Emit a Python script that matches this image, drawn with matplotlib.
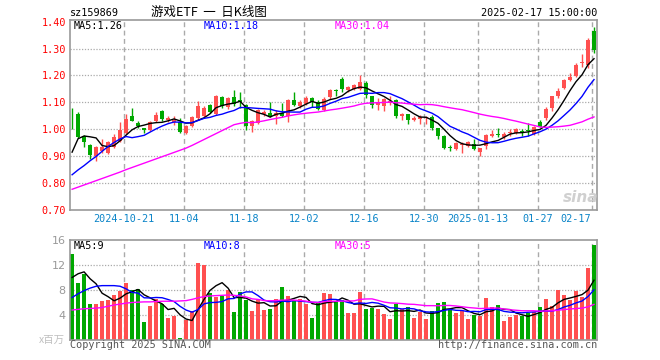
import numpy as np
import matplotlib
matplotlib.use("Agg")
import matplotlib.pyplot as plt

# daily candles, 2024-10-08 .. 2025-02-17 (88 trading days)
opens = [1.077, 1.058, 0.975, 0.942, 0.902, 0.918, 0.912, 0.933, 0.957, 0.987,
         1.048, 1.024, 1.003, 0.996, 1.030, 1.068, 1.035, 1.028, 1.026, 0.985,
         1.012, 1.040, 1.050, 1.090, 1.058, 1.120, 1.083, 1.120, 1.108, 1.092,
         1.011, 1.024, 1.057, 1.062, 1.050, 1.062, 1.048, 1.110, 1.086, 1.095,
         1.117, 1.101, 1.071, 1.119, 1.147, 1.188, 1.145, 1.150, 1.150, 1.172,
         1.123, 1.090, 1.088, 1.099, 1.110, 1.048, 1.056, 1.036, 1.038, 1.040,
         1.047, 1.004, 0.975, 0.933, 0.925, 0.940, 0.937, 0.946, 0.915, 0.937,
         0.975, 0.983, 0.972, 0.985, 0.987, 0.994, 0.996, 0.981, 1.027, 1.042,
         1.079, 1.122, 1.153, 1.184, 1.199, 1.246, 1.240, 1.365]
highs = [1.078, 1.066, 0.979, 0.945, 0.938, 0.962, 0.957, 0.984, 1.026, 1.056,
         1.080, 1.030, 1.004, 1.032, 1.066, 1.072, 1.048, 1.048, 1.040, 1.015,
         1.050, 1.105, 1.085, 1.093, 1.128, 1.125, 1.120, 1.145, 1.140, 1.095,
         1.035, 1.075, 1.072, 1.100, 1.072, 1.099, 1.113, 1.137, 1.109, 1.122,
         1.120, 1.107, 1.120, 1.150, 1.150, 1.195, 1.160, 1.168, 1.200, 1.178,
         1.125, 1.115, 1.118, 1.125, 1.112, 1.062, 1.058, 1.048, 1.052, 1.050,
         1.052, 1.006, 0.980, 0.941, 0.952, 0.951, 0.956, 0.962, 0.931, 0.982,
         0.997, 1.006, 0.989, 1.000, 1.003, 1.000, 1.022, 1.012, 1.036, 1.083,
         1.125, 1.153, 1.186, 1.209, 1.246, 1.279, 1.338, 1.381]
lows = [1.000, 0.969, 0.933, 0.890, 0.881, 0.912, 0.908, 0.930, 0.953, 0.981,
        1.030, 1.006, 0.986, 0.993, 1.028, 1.032, 1.028, 1.015, 0.986, 0.982,
        1.008, 1.035, 1.045, 1.060, 1.052, 1.080, 1.075, 1.085, 1.080, 0.999,
        0.990, 1.018, 1.050, 1.047, 1.018, 1.045, 1.026, 1.085, 1.078, 1.092,
        1.083, 1.071, 1.067, 1.113, 1.122, 1.140, 1.140, 1.145, 1.145, 1.118,
        1.080, 1.070, 1.068, 1.090, 1.040, 1.035, 1.020, 1.030, 1.020, 1.020,
        0.998, 0.963, 0.925, 0.920, 0.922, 0.910, 0.934, 0.923, 0.900, 0.925,
        0.972, 0.972, 0.965, 0.975, 0.984, 0.975, 0.975, 0.978, 1.007, 1.036,
        1.067, 1.116, 1.149, 1.178, 1.196, 1.233, 1.227, 1.283]
closes = [1.074, 0.973, 0.951, 0.906, 0.935, 0.933, 0.951, 0.972, 0.996, 1.039,
          1.032, 1.012, 0.998, 1.027, 1.054, 1.038, 1.040, 1.033, 0.990, 1.012,
          1.045, 1.088, 1.078, 1.065, 1.125, 1.085, 1.115, 1.095, 1.100, 1.011,
          1.030, 1.071, 1.065, 1.050, 1.062, 1.050, 1.110, 1.089, 1.101, 1.117,
          1.101, 1.074, 1.113, 1.145, 1.142, 1.148, 1.156, 1.163, 1.175, 1.128,
          1.090, 1.103, 1.113, 1.105, 1.048, 1.056, 1.036, 1.042, 1.045, 1.044,
          1.004, 0.975, 0.931, 0.929, 0.950, 0.947, 0.952, 0.925, 0.931, 0.977,
          0.981, 0.978, 0.984, 0.990, 1.000, 0.985, 0.992, 1.010, 1.010, 1.075,
          1.122, 1.144, 1.184, 1.194, 1.240, 1.250, 1.332, 1.295]
# volume, millions
volumes = [13.76, 9.17, 10.5, 5.76, 5.76, 6.24, 6.4, 7.2, 7.9, 9.17,
           8.0, 8.16, 2.93, 5.49, 6.56, 5.81, 3.57, 3.89, 0.3, 3.2,
           4.64, 12.37, 12.0, 7.52, 6.93, 7.04, 8.0, 4.43, 7.63, 6.4,
           4.64, 6.4, 4.8, 4.96, 6.56, 8.48, 7.04, 6.24, 6.56, 5.76,
           3.52, 6.13, 7.52, 7.36, 6.24, 6.4, 4.32, 4.32, 7.68, 4.96,
           5.17, 4.96, 4.16, 3.36, 5.76, 4.96, 5.28, 3.52, 4.48, 3.36,
           4.64, 5.92, 6.08, 4.96, 4.32, 4.64, 3.36, 4.0, 3.89, 6.72,
           5.28, 5.6, 3.04, 3.68, 4.0, 3.89, 4.32, 4.43, 5.28, 6.56,
           5.44, 8.0, 7.2, 6.4, 7.84, 6.88, 11.52, 15.2]

# moving average values before enough days are visible
ma5_start = [0.915, 0.965, 0.975, 0.972]
ma10_start = [0.831, 0.849, 0.865, 0.883, 0.899, 0.918, 0.936, 0.951, 0.964]
ma30_start = [0.777, 0.785, 0.793, 0.801, 0.809, 0.817, 0.825, 0.833, 0.841, 0.850,
              0.858, 0.866, 0.874, 0.882, 0.890, 0.898, 0.906, 0.914, 0.922, 0.930,
              0.940, 0.951, 0.962, 0.973, 0.984, 0.995, 1.006, 1.017, 1.022]
vma5_start = [10.0, 10.6, 10.9, 9.8]
vma10_start = [6.8, 7.4, 7.9, 8.3, 8.6, 8.7, 8.7, 8.7, 8.6]
vma30_start = [4.8, 4.9, 5.0, 5.05, 5.1, 5.2, 5.4, 5.6, 5.75, 5.9,
               6.0, 6.05, 6.1, 6.1, 6.15, 6.2, 6.2, 6.2, 6.25, 6.3,
               6.5, 6.75, 6.95, 7.05, 7.1, 7.15, 7.2, 7.15, 7.05]

date_labels = ["2024-10-21", "11-04", "11-18", "12-02", "12-16",
               "12-30", "2025-01-13", "01-27", "02-17"]
date_pos = [9, 19, 29, 39, 49, 59, 68, 78, 87]

UP = "#ff5050"
DOWN = "#00a800"
GRID = "#aaaaaa"
MONO = "DejaVu Sans Mono"
CJK = ["Noto Sans CJK SC", "DejaVu Sans"]
W, H = 660, 360


def sma(vals, n, start):
    out = list(start)
    for i in range(len(start), len(vals)):
        out.append(np.mean(vals[i - n + 1:i + 1]))
    return np.array(out)


def box(x0, y0, x1, y1):
    return [x0 / W, 1 - y1 / H, (x1 - x0) / W, (y1 - y0) / H]


def ftext(x, y, s, **kw):
    fig.text(x / W, 1 - y / H, s, **kw)


o = np.array(opens)
h = np.array(highs)
l = np.array(lows)
c = np.array(closes)
v = np.array(volumes)
idx = np.arange(len(c))
cols = [UP if c[i] >= o[i] else DOWN for i in idx]

fig = plt.figure(figsize=(6.6, 3.6), dpi=100)
ax = fig.add_axes(box(70, 20, 597, 210))
axv = fig.add_axes(box(70, 240, 597, 340))

for a in (ax, axv):
    a.set_xlim(-0.35, 87.5)
    for sp in a.spines.values():
        sp.set_color("#999999")
        sp.set_linewidth(1.2)
    for p in date_pos:
        a.axvline(p - 0.33, color=GRID, lw=1, dashes=(3.5, 2.5), zorder=0)
    a.set_xticks([])
    a.tick_params(axis="y", length=0, pad=3)

# price panel
ax.set_ylim(0.70, 1.406)
for lvl in [0.8, 0.9, 1.0, 1.1, 1.2, 1.3]:
    ax.axhline(lvl, color=GRID, lw=0.9, dashes=(1, 1.3), zorder=0)
ax.set_yticks([0.7, 0.8, 0.9, 1.0, 1.1, 1.2, 1.3, 1.4])
ax.set_yticklabels(["%.2f" % t for t in ax.get_yticks()],
                   color="#ff0000", fontfamily=MONO, fontsize=7.3)

ax.vlines(idx, l, h, colors=cols, lw=1, zorder=2)
body = np.maximum(np.abs(c - o), 0.003)
ax.bar(idx, body, bottom=np.minimum(o, c), width=0.8, color=cols, zorder=3)

ax.plot(idx, sma(c, 5, ma5_start), color="black", lw=1, zorder=4)
ax.plot(idx, sma(c, 10, ma10_start), color="#0000ff", lw=1, zorder=4)
ax.plot(idx, sma(c, 30, ma30_start), color="#ff00ff", lw=1, zorder=4)

# volume panel
axv.set_ylim(0, 16)
for lvl in [4, 8, 12]:
    axv.axhline(lvl, color=GRID, lw=0.9, dashes=(1, 1.3), zorder=0)
axv.set_yticks([4, 8, 12, 16])
axv.set_yticklabels(["4", "8", "12", "16"], color="#999999",
                    fontfamily="DejaVu Sans", fontsize=8)
axv.bar(idx, v, width=0.75, color=cols, zorder=2)
axv.plot(idx, sma(v, 5, vma5_start), color="black", lw=1, zorder=4)
axv.plot(idx, sma(v, 10, vma10_start), color="#0000ff", lw=1, zorder=4)
axv.plot(idx, sma(v, 30, vma30_start), color="#ff00ff", lw=1, zorder=4)

# texts
ftext(70, 13, "sz159869", fontfamily=MONO, fontsize=7.3, va="center")
ftext(209, 12, "游戏ETF  一  日K线图", family=CJK, fontsize=9, ha="center", va="center")
ftext(597, 13, "2025-02-17 15:00:00", fontfamily=MONO, fontsize=7.3, ha="right", va="center")

ftext(74, 26, "MA5:1.26", fontfamily=MONO, fontsize=7.3, va="center", color="black")
ftext(204, 26, "MA10:1.18", fontfamily=MONO, fontsize=7.3, va="center", color="#0000ff")
ftext(335, 26, "MA30:1.04", fontfamily=MONO, fontsize=7.3, va="center", color="#ff00ff")
ftext(74, 246, "MA5:9", fontfamily=MONO, fontsize=7.3, va="center", color="black")
ftext(204, 246, "MA10:8", fontfamily=MONO, fontsize=7.3, va="center", color="#0000ff")
ftext(335, 246, "MA30:5", fontfamily=MONO, fontsize=7.3, va="center", color="#ff00ff")

for lab, p in zip(date_labels, date_pos):
    x = 72 + 6 * p - 2
    if lab == "02-17":
        ftext(x - 1, 219, lab, fontfamily=MONO, fontsize=7.3, ha="right",
              va="center", color="#0a84c8")
    else:
        ftext(x, 219, lab, fontfamily=MONO, fontsize=7.3, ha="center",
              va="center", color="#0a84c8")

ftext(65, 340, "x百万", family=CJK, fontsize=7.5, ha="right", va="center", color="#c0c0c0")
ftext(70, 345, "Copyright 2025 SINA.COM", fontfamily=MONO, fontsize=7.3,
      va="center", color="#555555")
ftext(597, 345, "http://finance.sina.com.cn", fontfamily=MONO, fontsize=7.3,
      ha="right", va="center", color="#555555")
ftext(581, 197, "sina", fontfamily="DejaVu Sans", fontsize=11, fontweight="bold",
      style="italic", ha="center", va="center", color="#d0d0d0")

fig.savefig("out.png", dpi=100)
